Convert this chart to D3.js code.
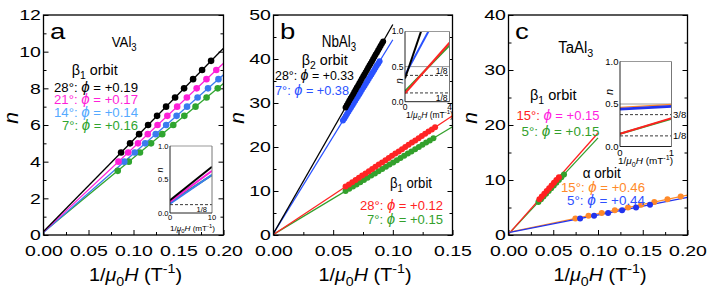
<!DOCTYPE html>
<html><head><meta charset="utf-8">
<script src="https://cdn.jsdelivr.net/npm/d3@7"></script>
<style>body{margin:0;background:#fff}svg{display:block}</style>
</head><body>
<script>
// ---------------- DATA ----------------
// Panel a: VAl3, beta1 orbit
const aXTicks = [0, 0.05, 0.10, 0.15, 0.20];
const aXMinor = [0.025, 0.075, 0.125, 0.175];
const aYTicks = [0, 2, 4, 6, 8, 10, 12];
const aYMinor = [1, 3, 5, 7, 9, 11];
const aAngles = ["28°", "21°", "14°", "7°"];
const aPhi = [0.19, 0.17, 0.14, 0.16];
const aFreq = [50, 46, 43, 40.5];
const aLineEnd = [0.2, 0.2, 0.2, 0.2];
const aN28 = [4.5,5,5.5,6,6.5,7,7.5,8,8.5,9,9.5];
const aX28 = [0.0862,0.0962,0.1062,0.1162,0.1262,0.1362,0.1462,0.1562,0.1662,0.1762,0.1862];
const aN21 = [4,4.5,5,5.5,6,6.5,7,7.5,8,8.5,9];
const aX21 = [0.0833,0.0941,0.1050,0.1159,0.1267,0.1376,0.1485,0.1593,0.1702,0.1811,0.1920];
const aN14 = [4,4.5,5,5.5,6,6.5,7,7.5,8,8.5];
const aX14 = [0.0898,0.1014,0.1130,0.1247,0.1363,0.1479,0.1595,0.1712,0.1828,0.1944];
const aN7 = [3.5,4,4.5,5,5.5,6,6.5,7,7.5,8];
const aX7 = [0.0825,0.0948,0.1072,0.1195,0.1319,0.1442,0.1565,0.1689,0.1812,0.1936];
const aInsetXTicks = [0, 10];
const aInsetSlope = [0.050, 0.046, 0.043, 0.0405];

// Panel b: NbAl3, beta2 (28°, 7°) and beta1 (28°, 7°)
const bXTicks = [0, 0.05, 0.10, 0.15];
const bXMinor = [0.025, 0.075, 0.125];
const bYTicks = [0, 10, 20, 30, 40, 50];
const bYMinor = [5, 15, 25, 35, 45];
const bAngles = ["28°", "7°", "28°", "7°"];
const bPhi = [0.33, 0.38, 0.12, 0.15];
const bFreq = [475, 440, 180, 163];
const bLineEnd = [0.1, 0.1, 0.15, 0.15];
const bN28b2 = [29,29.5,30,30.5,31,31.5,32,32.5,33,33.5,34,34.5,35,35.5,36,36.5,37,37.5,38,38.5,39,39.5,40,40.5,41,41.5,42,42.5,43,43.5,44];
const bX28b2 = [0.0604,0.0614,0.0625,0.0635,0.0646,0.0656,0.0667,0.0677,0.0688,0.0698,0.0709,0.0719,0.0730,0.0740,0.0751,0.0761,0.0772,0.0783,0.0793,0.0804,0.0814,0.0825,0.0835,0.0846,0.0856,0.0867,0.0877,0.0888,0.0898,0.0909,0.0919];
const bN7b2 = [26,26.5,27,27.5,28,28.5,29,29.5,30,30.5,31,31.5,32,32.5,33,33.5,34,34.5,35,35.5,36,36.5,37,37.5,38,38.5,39,39.5];
const bX7b2 = [0.0582,0.0594,0.0605,0.0616,0.0628,0.0639,0.0650,0.0662,0.0673,0.0685,0.0696,0.0707,0.0719,0.0730,0.0741,0.0753,0.0764,0.0775,0.0787,0.0798,0.0810,0.0821,0.0832,0.0844,0.0855,0.0866,0.0878,0.0889];
const bN28b1 = [11,11.5,12,12.5,13,13.5,14,14.5,15,15.5,16,16.5,17,17.5,18,18.5,19,19.5,20,20.5,21,21.5,22,22.5,23,23.5,24,24.5];
const bX28b1 = [0.0604,0.0632,0.0660,0.0688,0.0716,0.0743,0.0771,0.0799,0.0827,0.0854,0.0882,0.0910,0.0938,0.0966,0.0993,0.1021,0.1049,0.1077,0.1104,0.1132,0.1160,0.1188,0.1216,0.1243,0.1271,0.1299,0.1327,0.1354];
const bN7b1 = [10,10.5,11,11.5,12,12.5,13,13.5,14,14.5,15,15.5,16,16.5,17,17.5,18,18.5,19,19.5,20,20.5,21,21.5,22];
const bX7b1 = [0.0604,0.0635,0.0666,0.0696,0.0727,0.0758,0.0788,0.0819,0.0850,0.0880,0.0911,0.0942,0.0972,0.1003,0.1034,0.1064,0.1095,0.1126,0.1156,0.1187,0.1218,0.1248,0.1279,0.1310,0.1340];
const bInsetXTicks = [0, 4];
const bInsetSlope = [0.465, 0.295, 0.18, 0.163];

// Panel c: TaAl3, beta1 (15°, 5°) and alpha (15°, 5°)
const cXTicks = [0, 0.05, 0.10, 0.15, 0.20];
const cXMinor = [0.025, 0.075, 0.125, 0.175];
const cYTicks = [0, 10, 20, 30, 40];
const cYMinor = [5, 15, 25, 35];
const cAngles = ["15°", "5°", "15°", "5°"];
const cPhi = [0.15, 0.15, 0.46, 0.44];
const cFreq = [184, 175, 34, 32];
const cLineEnd = [0.1, 0.1, 0.2, 0.2];
const cN15b1 = [6.5,7,7.5,8,8.5,9,9.5,10,10.5];
const cX15b1 = [0.0345,0.0372,0.0400,0.0427,0.0454,0.0481,0.0508,0.0535,0.0563];
const cN5b1 = [6,6.5,7,7.5,8,8.5,9,9.5,10,10.5,11];
const cX5b1 = [0.0334,0.0363,0.0391,0.0420,0.0449,0.0477,0.0506,0.0534,0.0563,0.0591,0.0620];
const cN15a = [3,3.5,4,4.5,5,5.5,6,6.5,7];
const cX15a = [0.0747,0.0894,0.1041,0.1188,0.1335,0.1482,0.1629,0.1776,0.1924];
const cN5a = [3,3.5,4,4.5,5,5.5];
const cX5a = [0.0800,0.0956,0.1113,0.1269,0.1425,0.1581];
const cInsetXTicks = [0, 1];
const cInsetSlope = [0.184, 0.175, 0.034, 0.032];

const insetYTicks = [0, 0.5, 1.0];

// ---------------- DRAWING ----------------
const FONT = "'Liberation Sans', Arial, Helvetica, sans-serif";
const svg = d3.select("body").append("svg").attr("width", 708).attr("height", 292)
  .attr("font-family", FONT);
svg.append("rect").attr("width", 708).attr("height", 292).attr("fill", "#fff");
const defs = svg.append("defs");

function rich(g, x, y, segs, o = {}) {
  const size = o.size || 13;
  let tr = `translate(${x},${y})`;
  if (o.rot) tr += ` rotate(${o.rot})`;
  if (o.sx) tr += ` scale(${o.sx},1)`;
  const t = g.append("text").attr("transform", tr).attr("font-size", size)
    .attr("text-anchor", o.anchor || "start").attr("fill", o.fill || "#000");
  if (o.it) t.attr("font-style", "italic");
  if (o.w) t.attr("textLength", o.w).attr("lengthAdjust", "spacingAndGlyphs");
  let shift = 0;
  segs.forEach(s => {
    if (typeof s === "string") s = { t: s };
    const sp = t.append("tspan").text(s.t);
    let target = 0, fs = size;
    if (s.sub) { target = size * 0.28; fs = size * 0.72; }
    if (s.sup) { target = -size * 0.42; fs = size * 0.72; }
    if (s.fs) fs = size * s.fs;
    if (target !== shift) { sp.attr("dy", target - shift); shift = target; }
    sp.attr("font-size", fs);
    if (s.it) sp.attr("font-style", "italic");
    if (s.fill) sp.attr("fill", s.fill);
  });
  return t;
}

function phiLabel(angle, phi) {
  return [angle + ": ", { t: "ϕ", it: 1, fs: 1.15 }, " = +" + phi.toFixed(2)];
}

function panel(cfg) {
  const g = svg.append("g");
  const x = d3.scaleLinear().domain(cfg.xDom).range([cfg.L, cfg.R]);
  const y = d3.scaleLinear().domain(cfg.yDom).range([cfg.B, cfg.T]);
  const clipId = "clip-" + cfg.key;
  defs.append("clipPath").attr("id", clipId).append("rect")
    .attr("x", cfg.L).attr("y", cfg.T).attr("width", cfg.R - cfg.L).attr("height", cfg.B - cfg.T);
  const style = sel => { sel.select(".domain").remove(); sel.selectAll("line").attr("stroke", "#000").attr("stroke-width", 1); };
  g.append("g").attr("transform", `translate(0,${cfg.B})`).call(d3.axisBottom(x).tickValues(cfg.xMinor).tickSize(-3).tickFormat("")).call(style);
  g.append("g").attr("transform", `translate(${cfg.L},0)`).call(d3.axisLeft(y).tickValues(cfg.yMinor).tickSize(-3).tickFormat("")).call(style);
  g.append("g").attr("transform", `translate(${cfg.R},0)`).call(d3.axisRight(y).tickValues(cfg.yMinor).tickSize(-3).tickFormat("")).call(style);
  const xa = g.append("g").attr("transform", `translate(0,${cfg.B})`)
    .call(d3.axisBottom(x).tickValues(cfg.xTicks).tickSize(-5).tickPadding(10).tickFormat(d3.format(".2f"))).call(style);
  const ya = g.append("g").attr("transform", `translate(${cfg.L},0)`)
    .call(d3.axisLeft(y).tickValues(cfg.yTicks).tickSize(-5).tickPadding(2).tickFormat(d3.format("d"))).call(style);
  g.append("g").attr("transform", `translate(${cfg.R},0)`).call(d3.axisRight(y).tickValues(cfg.yTicks).tickSize(-5).tickFormat("")).call(style);
  [xa, ya].forEach(a => { a.attr("font-family", FONT); a.selectAll("text").attr("font-size", 15).attr("fill", "#000").attr("transform", "scale(1.3,1)"); });
  // series lines and dots
  const lg = g.append("g").attr("clip-path", `url(#${clipId})`);
  cfg.lineOrder.forEach(i => {
    lg.append("line")
      .attr("x1", x(0)).attr("y1", y(cfg.phi[i]))
      .attr("x2", x(cfg.lineEnd[i])).attr("y2", y(cfg.phi[i] + cfg.freq[i] * cfg.lineEnd[i]))
      .attr("stroke", cfg.colors[i]).attr("stroke-width", 1.3);
  });
  cfg.dotOrder.forEach(i => {
    const xs = cfg.dotX[i], ns = cfg.dotN[i];
    lg.append("g").selectAll("circle").data(d3.range(xs.length)).join("circle")
      .attr("cx", k => x(xs[k])).attr("cy", k => y(ns[k])).attr("r", cfg.r).attr("fill", cfg.colors[i]);
  });
  // frame
  g.append("rect").attr("x", cfg.L).attr("y", cfg.T).attr("width", cfg.R - cfg.L).attr("height", cfg.B - cfg.T)
    .attr("fill", "none").attr("stroke", "#000").attr("stroke-width", 1.3);
  // axis titles
  rich(g, cfg.nx, 118, ["n"], { size: 21, it: 1, rot: -90, anchor: "middle" });
  rich(g, (cfg.L + cfg.R) / 2 + 2, 281, ["1/", { t: "μ", it: 1 }, { t: "0", sub: 1 }, { t: "H", it: 1 }, " (T", { t: "-1", sup: 1 }, ")"],
    { size: 19, anchor: "middle", w: 93 });
  return g;
}

function inset(ic) {
  const g = svg.append("g");
  const x = d3.scaleLinear().domain([0, ic.xTicks[ic.xTicks.length - 1]]).range([ic.L, ic.R]);
  const y = d3.scaleLinear().domain([0, 1]).range([ic.B, ic.T]);
  const clipId = "clip-" + ic.key;
  defs.append("clipPath").attr("id", clipId).append("rect")
    .attr("x", ic.L).attr("y", ic.T).attr("width", ic.R - ic.L).attr("height", ic.B - ic.T);
  g.append("rect").attr("x", ic.L).attr("y", ic.T).attr("width", ic.R - ic.L).attr("height", ic.B - ic.T).attr("fill", "#fff");
  const cg = g.append("g").attr("clip-path", `url(#${clipId})`);
  (ic.solid || []).forEach(v => cg.append("line").attr("x1", ic.L).attr("x2", ic.R).attr("y1", y(v)).attr("y2", y(v))
    .attr("stroke", "#9a9a9a").attr("stroke-width", 1));
  (ic.dashed || []).forEach(v => cg.append("line").attr("x1", ic.L).attr("x2", ic.R).attr("y1", y(v)).attr("y2", y(v))
    .attr("stroke", "#222").attr("stroke-width", 0.9).attr("stroke-dasharray", "3,2"));
  const xe = ic.xTicks[ic.xTicks.length - 1];
  ic.order.forEach(i => {
    cg.append("line").attr("x1", x(0)).attr("y1", y(ic.phi[i])).attr("x2", x(xe)).attr("y2", y(ic.phi[i] + ic.slope[i] * xe))
      .attr("stroke", ic.colors[i]).attr("stroke-width", ic.widths[i]);
  });
  // frame
  g.append("line").attr("x1", ic.L).attr("x2", ic.R).attr("y1", ic.T).attr("y2", ic.T).attr("stroke", "#999").attr("stroke-width", 1);
  g.append("line").attr("x1", ic.R).attr("x2", ic.R).attr("y1", ic.T).attr("y2", ic.B).attr("stroke", "#777").attr("stroke-width", 1);
  g.append("line").attr("x1", ic.L).attr("x2", ic.L).attr("y1", ic.T).attr("y2", ic.B).attr("stroke", "#222").attr("stroke-width", 1);
  g.append("line").attr("x1", ic.L).attr("x2", ic.R).attr("y1", ic.B).attr("y2", ic.B).attr("stroke", "#222").attr("stroke-width", 1);
  insetYTicks.forEach(v => g.append("text").attr("x", ic.L - 1.5).attr("y", y(v)).attr("dy", "0.35em")
    .attr("text-anchor", "end").attr("font-size", ic.fs).text(v.toFixed(1)));
  ic.xTicks.forEach(v => g.append("text").attr("x", x(v)).attr("y", ic.B + ic.fs - 0.5)
    .attr("text-anchor", "middle").attr("font-size", ic.fs).text(v));
  rich(g, ic.nx, ic.ny, ["n"], { size: ic.fs + 1.5, it: 1, rot: -90, anchor: "middle" });
  rich(g, ic.lx, ic.ly, ["1/", { t: "μ", it: 1 }, { t: "0", sub: 1 }, { t: "H", it: 1 }, " (mT", { t: "-1", sup: 1 }, ")"],
    { size: ic.fs, anchor: "middle", w: ic.lw });
  (ic.marks || []).forEach(m => rich(g, m.x, m.y, [m.t], { size: ic.fs, anchor: m.anchor || "start" }));
  return g;
}

// ---- Panel a ----
const aColors = ["#000000", "#ff1fd8", "#3a7bef", "#2fa52f"];
const aText = ["#000000", "#ff1fd8", "#55aaff", "#2fa52f"];
const ga = panel({ key: "a", L: 43.5, R: 223.5, T: 15, B: 235, xDom: [0, 0.2], yDom: [0, 12],
  xTicks: aXTicks, xMinor: aXMinor, yTicks: aYTicks, yMinor: aYMinor,
  phi: aPhi, freq: aFreq, lineEnd: aLineEnd, colors: aColors,
  dotX: [aX28, aX21, aX14, aX7], dotN: [aN28, aN21, aN14, aN7], r: 3.3,
  lineOrder: [3, 2, 1, 0], dotOrder: [3, 2, 1, 0], nx: 17.5 });
rich(ga, 50, 38.5, ["a"], { size: 22, sx: 1.25 });
rich(ga, 111.7, 46.5, ["VAl", { t: "3", sub: 1 }], { size: 14.5, w: 25 });
rich(ga, 71.7, 75, ["β", { t: "1", sub: 1 }, " orbit"], { size: 14.5, w: 46 });
const aBase = [91.7, 104.3, 117, 129.7];
aAngles.forEach((ang, i) => rich(ga, 138, aBase[i], phiLabel(ang, aPhi[i]), { size: 13.5, anchor: "end", fill: aText[i], w: i === 3 ? 76 : 84 }));
inset({ key: "ia", L: 170, R: 212, T: 146, B: 213, xTicks: aInsetXTicks, phi: aPhi, slope: aInsetSlope,
  colors: aColors, widths: [2, 2, 2, 2], order: [3, 2, 1, 0], dashed: [0.125], fs: 7.5,
  nx: 163, ny: 170, lx: 192.5, ly: 231, lw: 45,
  marks: [{ t: "1/8", x: 207, y: 212, anchor: "end" }] });

// ---- Panel b ----
const bColors = ["#000000", "#2a52ff", "#ff2424", "#33a02c"];
const gb = panel({ key: "b", L: 273.5, R: 452.5, T: 15, B: 235, xDom: [0, 0.15], yDom: [0, 50],
  xTicks: bXTicks, xMinor: bXMinor, yTicks: bYTicks, yMinor: bYMinor,
  phi: bPhi, freq: bFreq, lineEnd: bLineEnd, colors: bColors,
  dotX: [bX28b2, bX7b2, bX28b1, bX7b1], dotN: [bN28b2, bN7b2, bN28b1, bN7b1], r: 3,
  lineOrder: [3, 2, 1, 0], dotOrder: [3, 2, 1, 0], nx: 244 });
rich(gb, 280, 38.5, ["b"], { size: 22, sx: 1.25 });
rich(gb, 321.7, 46.7, ["NbAl", { t: "3", sub: 1 }], { size: 17, w: 34.5 });
rich(gb, 301.7, 64.5, ["β", { t: "2", sub: 1 }, " orbit"], { size: 14.5, w: 46 });
rich(gb, 275, 80, phiLabel(bAngles[0], bPhi[0]), { size: 13.5, fill: bColors[0], w: 79 });
rich(gb, 275, 94.5, phiLabel(bAngles[1], bPhi[1]), { size: 13.5, fill: bColors[1], w: 74 });
rich(gb, 390, 188.3, ["β", { t: "1", sub: 1 }, " orbit"], { size: 14.5, w: 42 });
rich(gb, 443, 210, phiLabel(bAngles[2], bPhi[2]), { size: 13.5, anchor: "end", fill: bColors[2], w: 83 });
rich(gb, 443, 224, phiLabel(bAngles[3], bPhi[3]), { size: 13.5, anchor: "end", fill: bColors[3], w: 76 });
inset({ key: "ib", L: 405, R: 449.5, T: 31.5, B: 101.7, xTicks: bInsetXTicks, phi: bPhi, slope: bInsetSlope,
  colors: bColors, widths: [2, 2, 2, 2], order: [3, 2, 1, 0], dashed: [0.375, 0.125], solid: [0.5], fs: 8.5,
  nx: 403, ny: 81, lx: 429.5, ly: 118, lw: 47,
  marks: [{ t: "1/8", x: 447.5, y: 74, anchor: "end" }, { t: "1/8", x: 447.5, y: 100.7, anchor: "end" }] });

// ---- Panel c ----
const cColors = ["#ff2020", "#33a02c", "#ff8a2a", "#2233ee"];
const gc = panel({ key: "c", L: 508.5, R: 687.5, T: 15, B: 235, xDom: [0, 0.2], yDom: [0, 40],
  xTicks: cXTicks, xMinor: cXMinor, yTicks: cYTicks, yMinor: cYMinor,
  phi: cPhi, freq: cFreq, lineEnd: cLineEnd, colors: cColors,
  dotX: [cX15b1, cX5b1, cX15a, cX5a], dotN: [cN15b1, cN5b1, cN15a, cN5a], r: 3,
  lineOrder: [1, 0, 2, 3], dotOrder: [1, 0, 2, 3], nx: 477 });
rich(gc, 515, 38.5, ["c"], { size: 22, sx: 1.25 });
rich(gc, 558.3, 52.5, ["TaAl", { t: "3", sub: 1 }], { size: 16, w: 35 });
rich(gc, 530, 100, ["β", { t: "1", sub: 1 }, " orbit"], { size: 14.5, w: 46.5 });
rich(gc, 599.5, 120, [cAngles[0] + ": ", { t: "ϕ", it: 1, fs: 1.15, fill: "#ff20e0" }, { t: " = +" + cPhi[0].toFixed(2), fill: "#ff20e0" }],
  { size: 13.5, anchor: "end", fill: cColors[0], w: 83 });
rich(gc, 599.5, 136, phiLabel(cAngles[1], cPhi[1]), { size: 13.5, anchor: "end", fill: cColors[1], w: 78 });
rich(gc, 582.7, 178, ["α orbit"], { size: 14.5, w: 38 });
rich(gc, 645, 191.7, phiLabel(cAngles[2], cPhi[2]), { size: 13.5, anchor: "end", fill: cColors[2], w: 84 });
rich(gc, 645, 204.5, phiLabel(cAngles[3], cPhi[3]), { size: 13.5, anchor: "end", fill: "#2f50ff", w: 78 });
inset({ key: "ic", L: 620, R: 671.5, T: 61.5, B: 146.5, xTicks: cInsetXTicks, phi: cPhi, slope: cInsetSlope,
  colors: cColors, widths: [2, 2, 1.3, 2.6], order: [1, 0, 2, 3], dashed: [0.375, 0.125], solid: [0.5], fs: 9.5,
  nx: 612.5, ny: 92, lx: 645.5, ly: 164, lw: 55,
  marks: [{ t: "3/8", x: 673, y: 118 }, { t: "1/8", x: 673, y: 139 }] });
</script>
</body></html>
